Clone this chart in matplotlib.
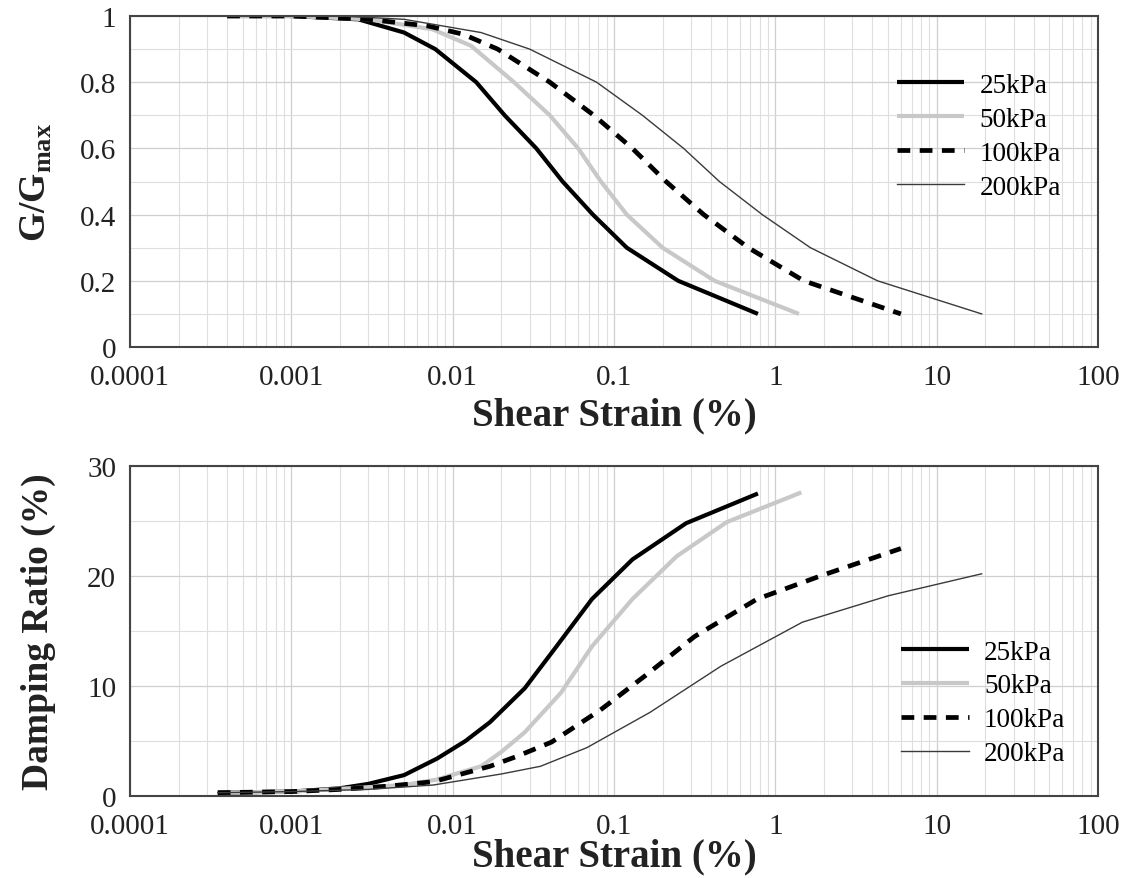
import numpy as np
import matplotlib.pyplot as plt

# strain ticks shared by both panels
strain_ticks = [0.0001, 0.001, 0.01, 0.1, 1, 10, 100]
strain_labels = ['0.0001', '0.001', '0.01', '0.1', '1', '10', '100']
series_names = ['25kPa', '50kPa', '100kPa', '200kPa']

# G/Gmax curves
g_strain_25 = [0.0004, 0.001, 0.0026, 0.005, 0.0078, 0.014, 0.021, 0.033, 0.048, 0.074, 0.12, 0.25, 0.78]
g_25 = [1.0, 1.0, 0.99, 0.95, 0.9, 0.8, 0.7, 0.6, 0.5, 0.4, 0.3, 0.2, 0.1]
g_strain_50 = [0.0004, 0.001, 0.003, 0.0075, 0.013, 0.024, 0.04, 0.06, 0.083, 0.12, 0.2, 0.42, 1.4]
g_50 = [1.0, 1.0, 0.99, 0.96, 0.91, 0.8, 0.7, 0.6, 0.5, 0.4, 0.3, 0.2, 0.1]
g_strain_100 = [0.0004, 0.001, 0.003, 0.007, 0.0116, 0.019, 0.04, 0.075, 0.13, 0.21, 0.36, 0.68, 1.5, 6.0]
g_100 = [1.0, 1.0, 0.99, 0.97, 0.945, 0.9, 0.8, 0.7, 0.6, 0.5, 0.4, 0.3, 0.2, 0.1]
g_strain_200 = [0.0004, 0.002, 0.005, 0.015, 0.03, 0.078, 0.15, 0.27, 0.45, 0.83, 1.65, 4.3, 19]
g_200 = [1.0, 1.0, 0.99, 0.95, 0.9, 0.8, 0.7, 0.6, 0.5, 0.4, 0.3, 0.2, 0.1]

# damping ratio curves (%)
d_strain_25 = [0.00035, 0.001, 0.002, 0.003, 0.005, 0.008, 0.012, 0.017, 0.028, 0.044, 0.073, 0.13, 0.28, 0.78]
d_25 = [0.3, 0.4, 0.7, 1.1, 1.9, 3.4, 5.0, 6.7, 9.8, 13.6, 17.9, 21.5, 24.8, 27.5]
d_strain_50 = [0.00035, 0.001, 0.003, 0.005, 0.008, 0.015, 0.02, 0.028, 0.047, 0.073, 0.13, 0.245, 0.5, 1.45]
d_50 = [0.3, 0.4, 0.8, 1.0, 1.5, 2.7, 4.0, 5.8, 9.4, 13.6, 17.9, 21.8, 24.9, 27.6]
d_strain_100 = [0.00035, 0.001, 0.002, 0.004, 0.0076, 0.017, 0.025, 0.041, 0.082, 0.155, 0.316, 0.77, 1.9, 6.0]
d_100 = [0.3, 0.4, 0.6, 0.9, 1.3, 2.7, 3.6, 4.9, 7.8, 10.9, 14.5, 17.9, 20.0, 22.5]
d_strain_200 = [0.00035, 0.001, 0.003, 0.0076, 0.02, 0.035, 0.068, 0.167, 0.46, 1.47, 5.0, 19]
d_200 = [0.3, 0.4, 0.6, 1.0, 2.0, 2.7, 4.4, 7.6, 11.8, 15.8, 18.2, 20.2]

styles = [
    dict(color='black', lw=3.0, solid_capstyle='butt'),
    dict(color='#c8c8c8', lw=3.0, solid_capstyle='butt'),
    dict(color='black', lw=3.4, ls=(0, (2.7, 2.0)), dash_capstyle='butt'),
    dict(color='#3a3a3a', lw=1.0),
]

TXT = '#222222'


def style_axis(ax):
    ax.set_xscale('log')
    ax.set_xlim(1e-4, 100)
    ax.set_xticks(strain_ticks)
    ax.set_xticklabels(strain_labels)
    ax.grid(True, which='major', color='#cfcfcf', lw=0.9)
    ax.grid(True, which='minor', color='#dedede', lw=0.8)
    ax.set_axisbelow(True)
    ax.tick_params(which='both', length=0)
    ax.tick_params(axis='x', labelsize=21, pad=12, labelcolor=TXT)
    ax.tick_params(axis='y', labelsize=21, pad=10, labelcolor=TXT)
    for s in ax.spines.values():
        s.set_color('#444444')
        s.set_linewidth(1.5)


def main():
    plt.rcParams['font.family'] = ['Liberation Serif', 'DejaVu Serif']
    fig = plt.figure(figsize=(11.29, 8.79), dpi=100)
    ax1 = fig.add_axes([130 / 1129, 1 - 348 / 879, 968 / 1129, 331 / 879])
    ax2 = fig.add_axes([130 / 1129, 1 - 797 / 879, 968 / 1129, 330 / 879])

    leg_kw = dict(loc='center left', frameon=False, fontsize=19.5, handlelength=2.5,
                  handletextpad=0.55, labelspacing=0.33, borderpad=0, borderaxespad=0)

    # 上图: G/Gmax
    g_data = [(g_strain_25, g_25), (g_strain_50, g_50), (g_strain_100, g_100), (g_strain_200, g_200)]
    for (x, y), name, st in zip(g_data, series_names, styles):
        ax1.plot(x, y, label=name, **st)
    style_axis(ax1)
    ax1.set_ylim(0, 1)
    ax1.set_yticks([0, 0.2, 0.4, 0.6, 0.8, 1.0])
    ax1.set_yticklabels(['0', '0.2', '0.4', '0.6', '0.8', '1'])
    ax1.set_yticks(np.arange(0, 1.01, 0.1), minor=True)
    ax1.set_xlabel('Shear Strain (%)', fontsize=28, fontweight='bold', color=TXT)
    ax1.xaxis.set_label_coords(0.5, -0.15)
    ax1.set_ylabel('G/G$_\\mathregular{max}$', fontsize=27, fontweight='bold', color=TXT)
    ax1.yaxis.set_label_coords(-0.078, 0.5)
    ax1.legend(bbox_to_anchor=(0.792, 0.637), **leg_kw)

    # 下图: damping ratio
    d_data = [(d_strain_25, d_25), (d_strain_50, d_50), (d_strain_100, d_100), (d_strain_200, d_200)]
    for (x, y), name, st in zip(d_data, series_names, styles):
        ax2.plot(x, y, label=name, **st)
    style_axis(ax2)
    ax2.set_ylim(0, 30)
    ax2.set_yticks([0, 10, 20, 30])
    ax2.set_yticks(np.arange(0, 31, 5), minor=True)
    ax2.set_xlabel('Shear Strain (%)', fontsize=28, fontweight='bold', color=TXT)
    ax2.xaxis.set_label_coords(0.5, -0.125)
    ax2.set_ylabel('Damping Ratio (%)', fontsize=27, fontweight='bold', color=TXT)
    ax2.yaxis.set_label_coords(-0.076, 0.5)
    ax2.legend(bbox_to_anchor=(0.797, 0.282), **leg_kw)

    fig.savefig('out.png', dpi=100)


if __name__ == '__main__':
    plt.close('all')
    main()
